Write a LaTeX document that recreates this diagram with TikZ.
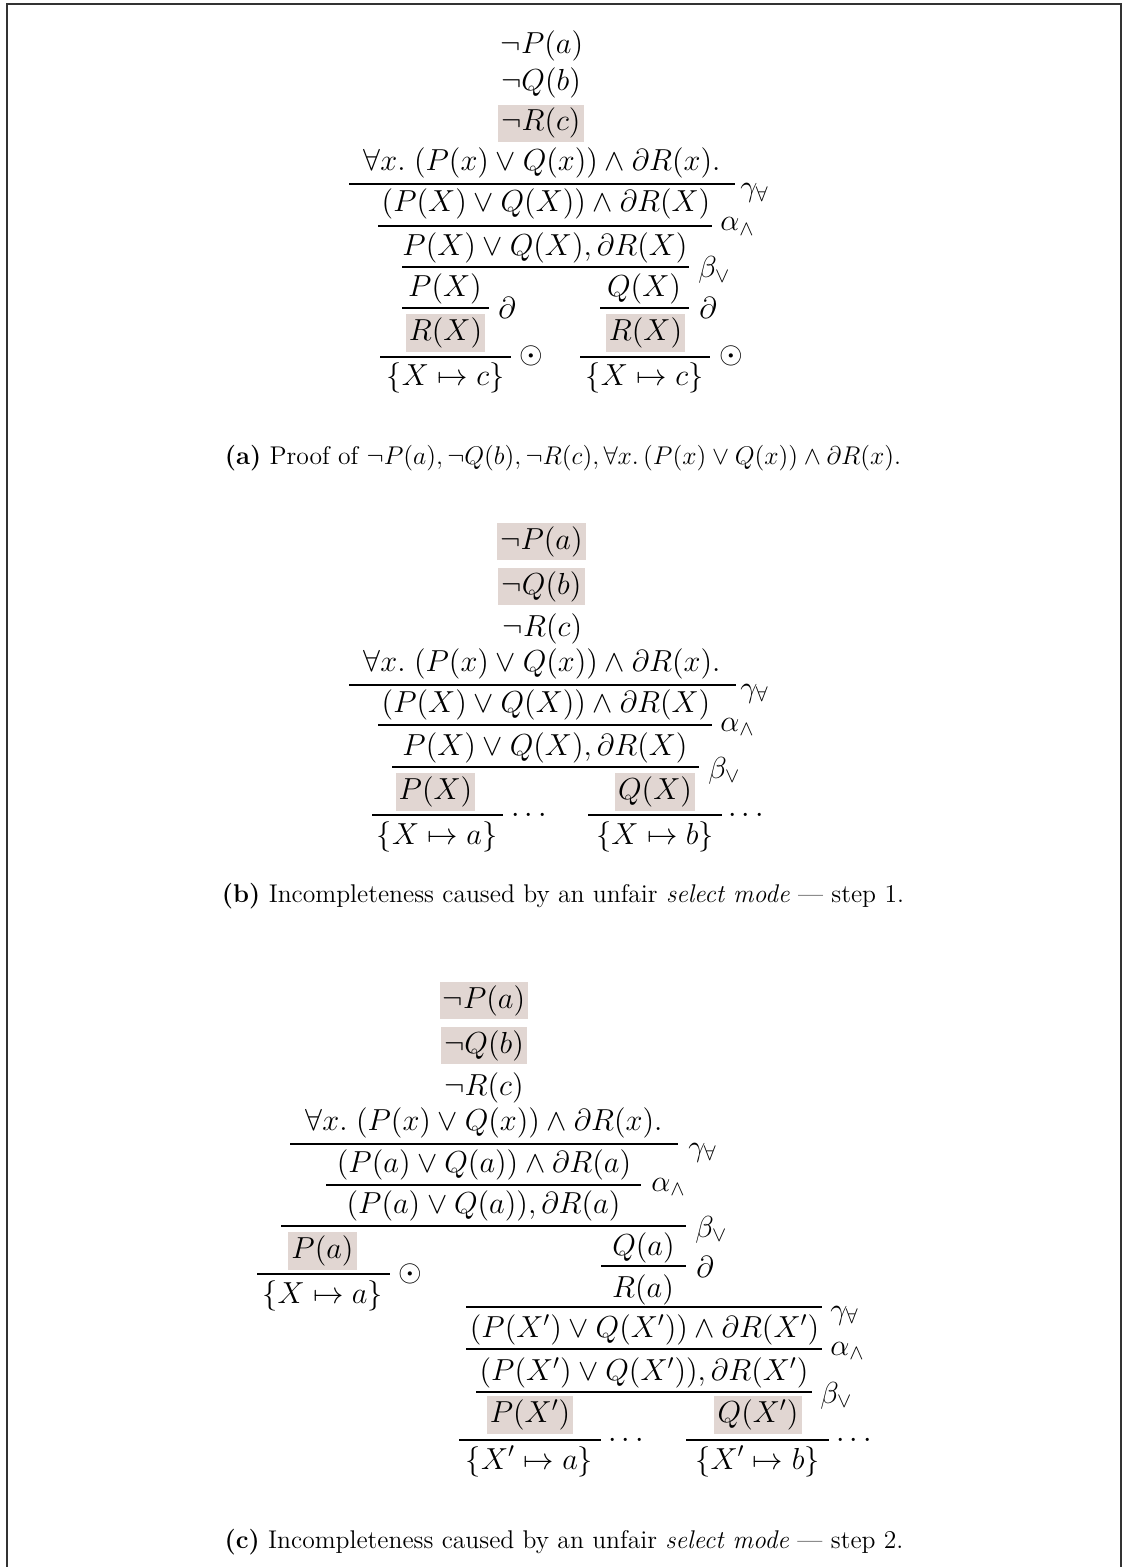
\RequirePackage{fix-cm}
\documentclass[tikz,border=0pt]{standalone}
\usepackage{amsmath,amssymb}
\definecolor{hlcol}{RGB}{225,214,210}
\newcommand{\mfont}{\fontsize{15.2}{18}\selectfont}
\newcommand{\cfont}{\fontsize{12.8}{15}\selectfont}
\tikzset{
  fml/.style={anchor=base, inner sep=0pt, font=\mfont},
  hlf/.style={anchor=base, fill=hlcol, inner xsep=1.6pt, inner ysep=1.8pt, font=\mfont},
  lab/.style={anchor=base west, inner sep=0pt, font=\mfont},
  rl/.style={line width=0.55pt},
  captxt/.style={anchor=base, inner sep=0pt, font=\cfont},
  frm/.style={line width=1pt, black!80}
}
\begin{document}
\begin{tikzpicture}[x=0.5pt,y=-0.5pt]
\useasboundingbox (0,0) rectangle (1124,1567);
\draw[frm] (7,1567) -- (7,4) -- (1121,4) -- (1121,1567);

% ---------------- (a) ----------------
\node[fml] (a1) at (542,54) {$\neg P(a)$};
\node[fml] (a2) at (541,91) {$\neg Q(b)$};
\node[hlf] (a3) at (541,131) {$\neg R(c)$};
\node[fml] (a4) at (542,171) {$\forall x.\;(P(x)\vee Q(x))\wedge\partial R(x).$};
\draw[rl] (349,184) -- (735,184);
\node[lab] (a4l) at (740,197) {$\gamma_\forall$};
\node[fml] (a5) at (546,211.5) {$(P(X)\vee Q(X))\wedge\partial R(X)$};
\draw[rl] (378,226) -- (712,226);
\node[lab] (a5l) at (720,231) {$\alpha_\wedge$};
\node[fml] (a6) at (545,255.5) {$P(X)\vee Q(X),\partial R(X)$};
\draw[rl] (402,267) -- (689,267);
\node[lab] (a6l) at (698,278) {$\beta_\vee$};
\node[fml] (a7) at (445,296.5) {$P(X)$};
\draw[rl] (402,308) -- (489,308);
\node[lab] (a7l) at (498,319) {$\partial$};
\node[hlf] (a8) at (445.5,340.5) {$R(X)$};
\draw[rl] (380,357) -- (511,357);
\node[lab] (a8l) at (519,364) {$\odot$};
\node[fml] (a9) at (445.5,386) {$\{X\mapsto c\}$};
\node[fml] (a10) at (644,296.5) {$Q(X)$};
\draw[rl] (600,308) -- (689,308);
\node[lab] (a10l) at (699,319) {$\partial$};
\node[hlf] (a11) at (645.5,340.5) {$R(X)$};
\draw[rl] (580,357) -- (710,357);
\node[lab] (a11l) at (719,364) {$\odot$};
\node[fml] (a12) at (644.5,386) {$\{X\mapsto c\}$};
\node[captxt] (capa) at (563,464) {\textbf{(a)} Proof of $\neg P(a),\neg Q(b),\neg R(c),\forall x.\,(P(x)\vee Q(x))\wedge\partial R(x)$.};

% ---------------- (b) ----------------
\node[hlf] (b1) at (541.5,549) {$\neg P(a)$};
\node[hlf] (b2) at (541.5,594) {$\neg Q(b)$};
\node[fml] (b3) at (542.5,636) {$\neg R(c)$};
\node[fml] (b4) at (542,671) {$\forall x.\;(P(x)\vee Q(x))\wedge\partial R(x).$};
\draw[rl] (349,685) -- (736,685);
\node[lab] (b4l) at (740,697) {$\gamma_\forall$};
\node[fml] (b5) at (546,712.5) {$(P(X)\vee Q(X))\wedge\partial R(X)$};
\draw[rl] (378,725) -- (712,725);
\node[lab] (b5l) at (720,731) {$\alpha_\wedge$};
\node[fml] (b6) at (545,755.5) {$P(X)\vee Q(X),\partial R(X)$};
\draw[rl] (392,767) -- (699,767);
\node[lab] (b6l) at (708,778) {$\beta_\vee$};
\node[hlf] (b7) at (435.5,799.5) {$P(X)$};
\node[hlf] (b8) at (655,799.5) {$Q(X)$};
\draw[rl] (372,815) -- (503,815);
\node[lab] (b7l) at (511,822) {$\cdots$};
\draw[rl] (588,815) -- (722,815);
\node[lab] (b8l) at (728,822) {$\cdots$};
\node[fml] (b9) at (437,844) {$\{X\mapsto a\}$};
\node[fml] (b10) at (655,844) {$\{X\mapsto b\}$};
\node[captxt] (capb) at (563,902) {\textbf{(b)} Incompleteness caused by an unfair \emph{select mode} --- step 1.};

% ---------------- (c) ----------------
\node[hlf] (c1) at (484,1008) {$\neg P(a)$};
\node[hlf] (c2) at (484,1053) {$\neg Q(b)$};
\node[fml] (c3) at (484,1095) {$\neg R(c)$};
\node[fml] (c4) at (484,1130) {$\forall x.\;(P(x)\vee Q(x))\wedge\partial R(x).$};
\draw[rl] (290,1144) -- (678,1144);
\node[lab] (c4l) at (688,1156) {$\gamma_\forall$};
\node[fml] (c5) at (484,1172.5) {$(P(a)\vee Q(a))\wedge\partial R(a)$};
\draw[rl] (326,1185) -- (641,1185);
\node[lab] (c5l) at (651,1191) {$\alpha_\wedge$};
\node[fml] (c6) at (483.5,1213.5) {$(P(a)\vee Q(a)),\partial R(a)$};
\draw[rl] (281,1226) -- (686,1226);
\node[lab] (c6l) at (695,1237) {$\beta_\vee$};
\node[hlf] (c7) at (322.5,1258.5) {$P(a)$};
\draw[rl] (257,1274) -- (390,1274);
\node[lab] (c7l) at (398,1281) {$\odot$};
\node[fml] (c8) at (322.5,1303) {$\{X\mapsto a\}$};
\node[fml] (c9) at (643.5,1255.5) {$Q(a)$};
\draw[rl] (601,1266) -- (686,1266);
\node[lab] (c9l) at (696,1277) {$\partial$};
\node[fml] (c10) at (643,1297) {$R(a)$};
\draw[rl] (466,1307) -- (822,1307);
\node[lab] (c10l) at (830,1319) {$\gamma_\forall$};
\node[fml] (c11) at (644.5,1337.5) {$(P(X')\vee Q(X'))\wedge\partial R(X')$};
\draw[rl] (466,1349) -- (822,1349);
\node[lab] (c11l) at (830,1355) {$\alpha_\wedge$};
\node[fml] (c12) at (644,1380.5) {$(P(X')\vee Q(X')),\partial R(X')$};
\draw[rl] (476,1392) -- (812,1392);
\node[lab] (c12l) at (820,1403) {$\beta_\vee$};
\node[hlf] (c13) at (530,1422.5) {$P(X')$};
\node[hlf] (c14) at (758,1422.5) {$Q(X')$};
\draw[rl] (459,1440) -- (601,1440);
\node[lab] (c13l) at (608,1447) {$\cdots$};
\draw[rl] (686,1440) -- (829,1440);
\node[lab] (c14l) at (836,1447) {$\cdots$};
\node[fml] (c15) at (529.5,1469) {$\{X'\mapsto a\}$};
\node[fml] (c16) at (757.5,1469) {$\{X'\mapsto b\}$};
\node[captxt] (capc) at (564,1548) {\textbf{(c)} Incompleteness caused by an unfair \emph{select mode} --- step 2.};
\end{tikzpicture}
\end{document}
